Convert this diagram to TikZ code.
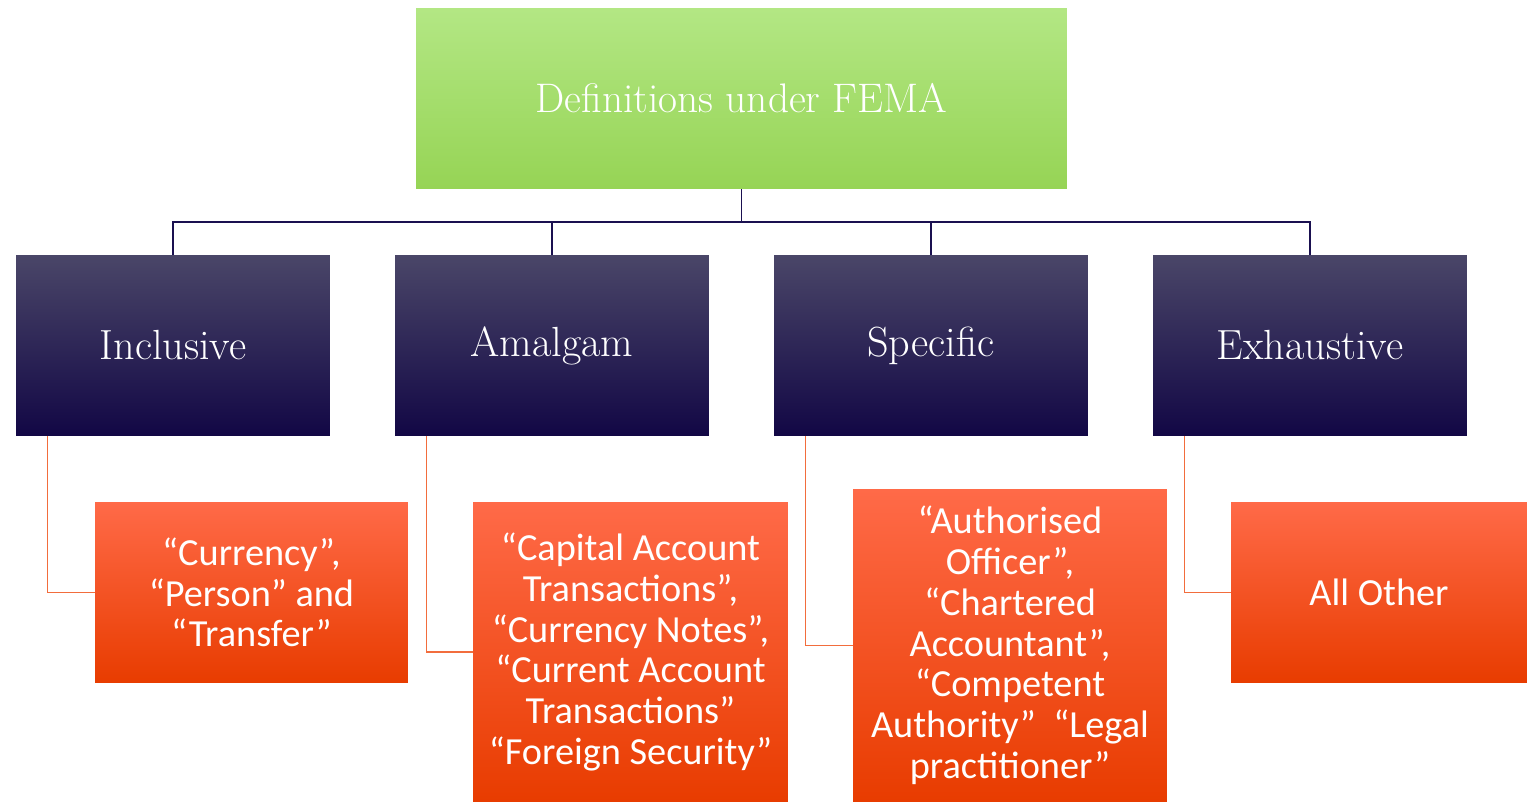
\documentclass[tikz,border=0pt]{standalone}
\usepackage{fontspec}
\newfontfamily\boxsans{Carlito}
\usetikzlibrary{calc}

\definecolor{greentop}{HTML}{B3E784}
\definecolor{greenbot}{HTML}{96D455}
\definecolor{navytop}{HTML}{4A4668}
\definecolor{navymid}{HTML}{170C4A}
\definecolor{navybot}{HTML}{120745}
\definecolor{orgtop}{HTML}{FF6A48}
\definecolor{orgmid}{HTML}{FC4600}
\definecolor{orgbot}{HTML}{E83C00}
\definecolor{navyline}{HTML}{1A1050}
\definecolor{orgline}{HTML}{F26D3D}

\tikzset{
  headbox/.style={inner sep=0pt,minimum width=13.02cm,minimum height=3.62cm,
    top color=greentop,bottom color=greenbot,text=white,
    font=\fontsize{23.5}{27}\selectfont},
  kindbox/.style={inner sep=0pt,minimum width=6.28cm,minimum height=3.62cm,
    top color=navytop,middle color=navymid,bottom color=navybot,text=white,
    font=\fontsize{24}{28}\selectfont},
  termbox/.style={inner sep=0pt,align=center,text=white,
    top color=orgtop,middle color=orgmid,bottom color=orgbot,
    font=\boxsans\fontsize{21.8}{23.2}\selectfont},
  navylink/.style={draw=navyline,line width=0.7pt},
  orglink/.style={draw=orgline,line width=0.7pt}
}

\begin{document}
\begin{tikzpicture}[x=0.02cm,y=-0.02cm]
\useasboundingbox (0,0) rectangle (1527,803);
\node[headbox] (fema) at (741.5,98.5) {Definitions under FEMA};
\node[kindbox] (inc) at (173,345.5) {Inclusive};
\node[kindbox] (ama) at (552,345.5) {Amalgam};
\node[kindbox] (spe) at (931,345.5) {Specific};
\node[kindbox] (exh) at (1310,345.5) {Exhaustive};
\node[termbox,minimum width=6.26cm,minimum height=3.62cm] (cur) at (251.5,592.5)
  {“Currency”,\\“Person” and\\“Transfer”};
\node[termbox,minimum width=6.30cm,minimum height=6.00cm] (cap) at (630.5,652)
  {“Capital Account\\Transactions”,\\“Currency Notes”,\\“Current Account\\Transactions”\\“Foreign Security”};
\node[termbox,minimum width=6.28cm,minimum height=6.26cm] (aut) at (1010,645.5)
  {“Authorised\\Officer”,\\“Chartered\\Accountant”,\\“Competent\\Authority”\ \ “Legal\\practitioner”};
\node[termbox,minimum width=5.92cm,minimum height=3.62cm] (oth) at (1379,592.5)
  {All Other};
% tree lines
\coordinate (bus) at (741.5,222);
\draw[navylink] (fema.south) -- (bus);
\foreach \n in {inc,ama,spe,exh}
  \draw[navylink] (bus) -| (\n.north);
\draw[orglink] ($(inc.south west)+(32,0)$) |- (cur.west);
\draw[orglink] ($(ama.south west)+(32,0)$) |- (cap.west);
\draw[orglink] ($(spe.south west)+(32,0)$) |- (aut.west);
\draw[orglink] ($(exh.south west)+(32,0)$) |- (oth.west);
\end{tikzpicture}
\end{document}
